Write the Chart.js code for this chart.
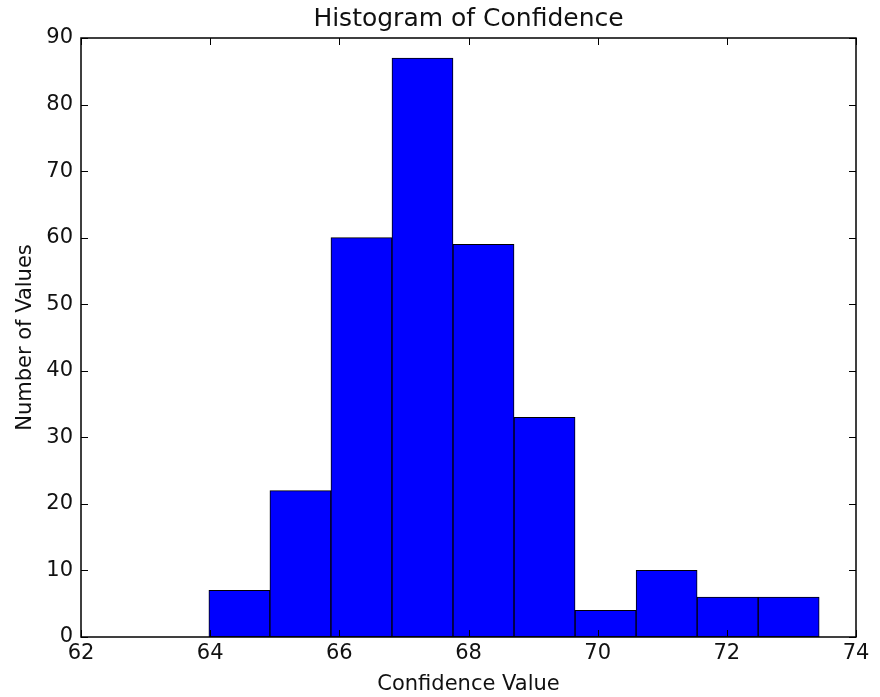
<!DOCTYPE html>
<html>
<head>
<meta charset="utf-8">
<script src="https://cdn.jsdelivr.net/npm/chart.js@4"></script>
<style>
  html, body { margin: 0; padding: 0; background: #fff; }
  #wrap { width: 880px; height: 697px; }
</style>
</head>
<body>
<div id="wrap"><canvas id="histChart" width="880" height="697"></canvas></div>
<script>
// bin edges and counts
const binEdges = [63.98, 64.925, 65.87, 66.815, 67.76, 68.705, 69.65, 70.595, 71.54, 72.485, 73.43];
const counts = [7, 22, 60, 87, 59, 33, 4, 10, 6, 6];
const xTicks = [62, 64, 66, 68, 70, 72, 74];
const yTicks = [0, 10, 20, 30, 40, 50, 60, 70, 80, 90];

const FONT = "'DejaVu Sans', sans-serif";

// bar centres from the edges
const points = counts.map((c, i) => ({ x: (binEdges[i] + binEdges[i + 1]) / 2, y: c }));

// frame + inward ticks on all four sides (matplotlib classic look)
const framePlugin = {
    id: 'frame',
    afterDatasetsDraw(chart) {
        const { ctx, chartArea: a, scales } = chart;
        const len = 7;
        ctx.save();
        ctx.strokeStyle = '#000';
        ctx.lineWidth = 1;
        ctx.beginPath();
        scales.x.ticks.forEach((t, i) => {
            const px = Math.round(scales.x.getPixelForTick(i)) + 0.5;
            ctx.moveTo(px, a.bottom); ctx.lineTo(px, a.bottom - len);
            ctx.moveTo(px, a.top); ctx.lineTo(px, a.top + len);
        });
        scales.y.ticks.forEach((t, i) => {
            const py = Math.round(scales.y.getPixelForTick(i)) + 0.5;
            ctx.moveTo(a.left, py); ctx.lineTo(a.left + len, py);
            ctx.moveTo(a.right, py); ctx.lineTo(a.right - len, py);
        });
        ctx.stroke();
        ctx.lineWidth = 1.5;
        ctx.strokeRect(a.left, a.top, a.right - a.left, a.bottom - a.top);
        ctx.restore();
    }
};

new Chart(document.getElementById('histChart'), {
    type: 'bar',
    data: {
        datasets: [{
            data: points,
            backgroundColor: '#0000ff',
            borderColor: '#000',
            borderWidth: 1,
            borderSkipped: false,
            barPercentage: 1,
            categoryPercentage: 1
        }]
    },
    options: {
        responsive: false,
        animation: false,
        layout: { padding: { top: 0, right: 24, bottom: 0, left: 0 } },
        plugins: {
            legend: { display: false },
            tooltip: { enabled: false },
            title: {
                display: true,
                fullSize: false,
                text: 'Histogram of Confidence',
                color: '#111',
                font: { family: FONT, size: 25, weight: 'normal' },
                padding: { top: 4, bottom: 4 }
            }
        },
        scales: {
            x: {
                type: 'linear',
                offset: false,
                min: xTicks[0],
                max: xTicks[xTicks.length - 1],
                afterBuildTicks: (s) => { s.ticks = xTicks.map(v => ({ value: v })); },
                afterFit: (s) => { s.height = 60; },
                grid: { display: false, drawTicks: false },
                border: { display: false },
                ticks: {
                    color: '#111',
                    padding: 4,
                    maxRotation: 0,
                    font: { family: FONT, size: 21 }
                },
                title: {
                    display: true,
                    text: 'Confidence Value',
                    color: '#111',
                    font: { family: FONT, size: 21 },
                    padding: { top: 0, bottom: 0 }
                }
            },
            y: {
                min: yTicks[0],
                max: yTicks[yTicks.length - 1],
                afterBuildTicks: (s) => { s.ticks = yTicks.map(v => ({ value: v })); },
                afterFit: (s) => { s.width = 81; },
                grid: { display: false, drawTicks: false },
                border: { display: false },
                ticks: {
                    color: '#111',
                    padding: 8,
                    font: { family: FONT, size: 21 }
                },
                title: {
                    display: true,
                    text: 'Number of Values',
                    color: '#111',
                    font: { family: FONT, size: 21 },
                    padding: { top: 13, bottom: 0 }
                }
            }
        }
    },
    plugins: [framePlugin]
});
</script>
</body>
</html>
